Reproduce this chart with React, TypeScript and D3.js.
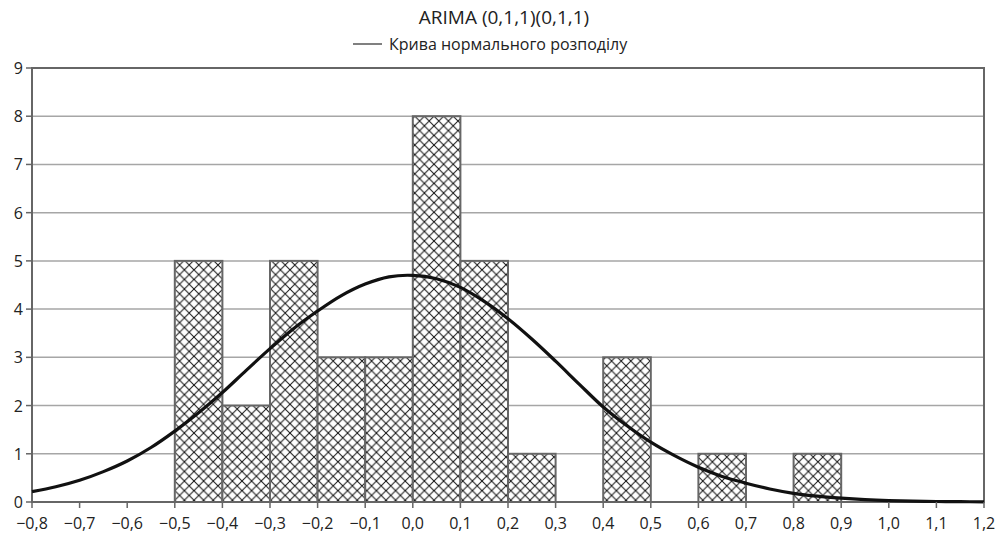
import React from "react";
import * as d3 from "d3";

const binStarts = [-0.5, -0.4, -0.3, -0.2, -0.1, 0.0, 0.1, 0.2, 0.3, 0.4, 0.5, 0.6, 0.7, 0.8];
const binCounts = [5, 2, 5, 3, 3, 8, 5, 1, 0, 3, 0, 1, 0, 1];
const binWidth = 0.1;

const curveX = [-0.8, -0.75, -0.7, -0.65, -0.6, -0.55, -0.5, -0.45, -0.4, -0.35, -0.3, -0.25, -0.2, -0.15, -0.1, -0.05, 0.0, 0.05, 0.1, 0.15, 0.2, 0.25, 0.3, 0.35, 0.4, 0.45, 0.5, 0.55, 0.6, 0.65, 0.7, 0.75, 0.8, 0.85, 0.9, 0.95, 1.0, 1.05, 1.1, 1.15, 1.2];
const curveY = [0.215, 0.315, 0.45, 0.63, 0.85, 1.13, 1.47, 1.85, 2.27, 2.73, 3.18, 3.6, 3.96, 4.28, 4.52, 4.67, 4.7, 4.63, 4.45, 4.16, 3.8, 3.38, 2.92, 2.44, 1.97, 1.58, 1.24, 0.96, 0.72, 0.53, 0.39, 0.27, 0.18, 0.12, 0.08, 0.05, 0.03, 0.018, 0.01, 0.006, 0.003];

const xTicks = [-0.8, -0.7, -0.6, -0.5, -0.4, -0.3, -0.2, -0.1, 0, 0.1, 0.2, 0.3, 0.4, 0.5, 0.6, 0.7, 0.8, 0.9, 1.0, 1.1, 1.2];
const yTicks = [0, 1, 2, 3, 4, 5, 6, 7, 8, 9];

const title = "ARIMA (0,1,1)(0,1,1)";
const legendLabel = "Крива нормального розподілу";

const W = 997;
const H = 536;
const left = 32;
const right = 984;
const top = 68;
const bottom = 502;
const font = "'Open Sans', 'Noto Sans', sans-serif";

function fmtX(v: number): string {
  const s = Math.abs(v).toFixed(1).replace(".", ",");
  return (v < -1e-9 ? "\u2212" : "") + s;
}

export default function App() {
  const x = d3.scaleLinear().domain([-0.8, 1.2]).range([left, right]);
  const y = d3.scaleLinear().domain([0, 9]).range([bottom, top]);
  const pts: [number, number][] = curveX.map((v, i) => [v, curveY[i]]);
  const line = d3
    .line<[number, number]>()
    .x((d) => x(d[0]))
    .y((d) => y(d[1]))
    .curve(d3.curveCatmullRom.alpha(0.5));

  return (
    <svg
      width={W}
      height={H}
      style={{ position: "absolute", left: 0, top: 0, background: "#fff" }}
      fontFamily={font}
    >
      <defs>
        <pattern id="hatch" patternUnits="userSpaceOnUse" width={9.6} height={9.6} x={x(-0.5)} y={y(8)}>
          <rect width={9.6} height={9.6} fill="#fff" />
          <path d="M0,0 L9.6,9.6 M9.6,0 L0,9.6" stroke="#111" strokeWidth={1} />
        </pattern>
      </defs>
      <rect x={0} y={0} width={W} height={H} fill="#fff" />

      {yTicks.slice(1).map((t) => (
        <line key={"g" + t} x1={left} x2={right} y1={y(t)} y2={y(t)} stroke="#a6a6a6" strokeWidth={1.5} />
      ))}

      {binStarts.map((b, i) =>
        binCounts[i] > 0 ? (
          <rect
            key={"b" + i}
            x={x(b)}
            y={y(binCounts[i])}
            width={x(b + binWidth) - x(b)}
            height={y(0) - y(binCounts[i])}
            fill="url(#hatch)"
            stroke="#666"
            strokeWidth={2}
          />
        ) : null
      )}

      <rect x={left} y={top} width={right - left} height={bottom - top} fill="none" stroke="#666" strokeWidth={2} />

      <path d={line(pts) || ""} fill="none" stroke="#111" strokeWidth={3.2} />

      {xTicks.map((t) => (
        <g key={"x" + t}>
          <line x1={x(t)} x2={x(t)} y1={bottom} y2={bottom + 6} stroke="#666" strokeWidth={1.5} />
          <text x={x(t)} y={bottom + 27} textAnchor="middle" fontSize={16} fill="#222">
            {fmtX(t)}
          </text>
        </g>
      ))}

      {yTicks.map((t) => (
        <g key={"y" + t}>
          <line x1={left - 6} x2={left} y1={y(t)} y2={y(t)} stroke="#666" strokeWidth={1.5} />
          <text x={left - 9} y={y(t) + 6} textAnchor="end" fontSize={16} fill="#222">
            {t}
          </text>
        </g>
      ))}

      <text x={504} y={24} textAnchor="middle" fontSize={19} fill="#222">
        {title}
      </text>
      <line x1={353} x2={382} y1={44} y2={44} stroke="#808080" strokeWidth={2} />
      <text x={389} y={50} fontSize={16} fill="#222">
        {legendLabel}
      </text>
    </svg>
  );
}
